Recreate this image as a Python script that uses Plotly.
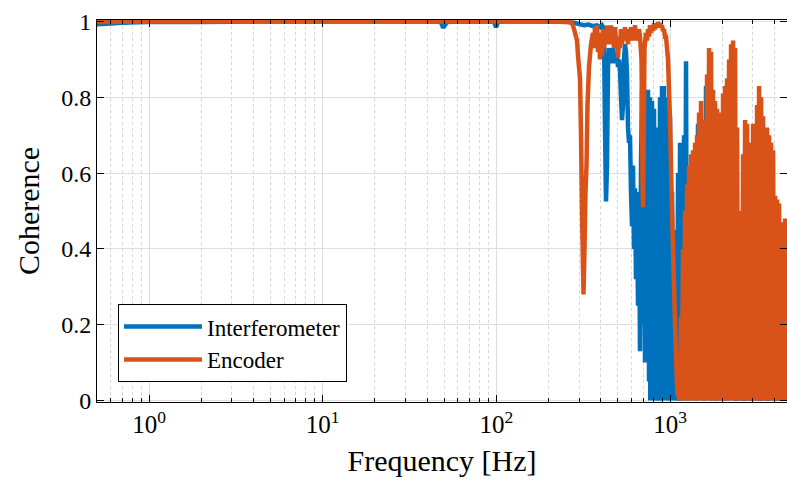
import plotly.graph_objects as go

# ---------------- data ----------------
# Interferometer coherence
FREQ_INT = [
    0.5, 0.6, 0.7, 0.85, 1, 2, 5, 10, 20, 45, 48, 49.3, 50.5, 52, 60, 90, 97, 99.5, 100.6, 102, 110,
    200, 250, 280, 300, 320, 340, 360, 380, 395, 405.5, 410.9,
    416.4, 422.0, 427.6, 433.3, 439.1, 445.0, 450.9, 456.9, 463.0, 469.2,
    475.4, 481.8, 488.2, 494.7, 501.3, 508.0, 514.8, 521.6, 528.6, 535.6,
    542.8, 550.0, 557.4, 564.8, 572.4, 580.0, 587.7, 595.6, 603.5, 611.6,
    619.7, 628.0, 636.4, 644.9, 653.5, 662.2, 671.0, 680.0, 689.0, 698.2,
    707.6, 717.0, 726.6, 736.3, 746.1, 756.1, 766.2, 776.4, 786.8, 797.3,
    807.9, 818.7, 829.6, 840.7, 851.9, 863.3, 874.8, 886.5, 898.3, 910.3,
    922.4, 934.7, 947.2, 959.9, 972.7, 985.6, 998.8, 1012, 1026, 1040,
    1054, 1068, 1082, 1096, 1111, 1126, 1141, 1156, 1171, 1187,
    1203, 1219, 1235, 1252, 1268, 1285, 1302,
    1337, 1373, 1410, 1448, 1487, 1527, 1568, 1610, 1654, 1698,
    1744, 1791, 1839, 1888, 1939, 1991, 2045, 2100, 2156, 2214,
    2244, 2274, 2335, 2398, 2462, 2528, 2596, 2666, 2738, 2811,
    2887, 2964, 3044, 3126, 3210, 3296, 3385, 3476, 3569, 3665,
    3764, 3865, 3969, 4076, 4185, 4298, 4413, 4532, 4654, 4779,
    4908, 5000,
]
COH_INT = [
    0.993, 0.995, 0.997, 0.998, 0.999, 0.999, 1.0, 1.0, 1.0, 1.0, 0.998, 0.984, 0.99, 0.999, 1.0, 1.0, 0.999, 0.985, 0.99, 0.999, 1.0,
    1.0, 1.0, 0.997, 0.993, 0.99, 0.992, 0.988, 0.99, 0.985, 0.99, 0.985,
    0.96, 0.72, 0.525, 0.62, 0.88, 0.93, 0.90, 0.92, 0.89, 0.93,
    0.90, 0.92, 0.89, 0.91, 0.88, 0.90, 0.87, 0.80, 0.74, 0.78,
    0.90, 0.94, 0.92, 0.86, 0.72, 0.68, 0.70, 0.55, 0.46, 0.62,
    0.40, 0.56, 0.32, 0.52, 0.25, 0.55, 0.13, 0.62, 0.82, 0.20,
    0.70, 0.10, 0.76, 0.25, 0.82, 0.05, 0.80, 0.02, 0.79, 0.01,
    0.77, 0.03, 0.60, 0.00, 0.72, 0.02, 0.80, 0.00, 0.83, 0.05,
    0.83, 0.01, 0.78, 0.02, 0.80, 0.00, 0.75, 0.03, 0.55, 0.01,
    0.35, 0.10, 0.45, 0.00, 0.60, 0.02, 0.68, 0.00, 0.65, 0.40,
    0.70, 0.03, 0.895, 0.02, 0.60, 0.01, 0.40,
    0.02, 0.30, 0.01, 0.73, 0.02, 0.25, 0.00, 0.83, 0.03, 0.10,
    0.01, 0.08, 0.00, 0.12, 0.02, 0.05, 0.00, 0.10, 0.02, 0.25,
    0.40, 0.05, 0.02, 0.00, 0.03, 0.01, 0.02, 0.00, 0.03, 0.01,
    0.02, 0.00, 0.03, 0.01, 0.02, 0.00, 0.03, 0.01, 0.02, 0.00,
    0.02, 0.01, 0.03, 0.00, 0.02, 0.01, 0.02, 0.00, 0.02, 0.01,
    0.02, 0.01,
]

# Encoder coherence
FREQ_ENC = [
    0.5, 1, 10, 100, 200, 250, 270,
    276.0, 283.5, 291.1, 295.0, 302.9, 307.0, 311.1, 315.2, 317.3, 321.5, 325.8, 330.2, 334.6, 341.3,
    350.5, 359.9, 364.7, 369.6, 374.5, 379.5, 384.6, 389.7, 394.9, 400.2,
    405.5, 410.9, 416.4, 422.0, 427.6, 433.3, 439.1, 445.0, 450.9, 456.9,
    463.0, 469.2, 475.4, 481.8, 488.2, 494.7, 501.3, 508.0, 514.8, 521.6,
    528.6, 535.6, 542.8, 550.0, 557.4, 564.8, 572.4, 580.0, 587.7, 595.6,
    603.5, 611.6, 619.7, 628.0, 636.4, 644.9, 653.5, 662.2, 671.0, 680.0,
    684.5, 693.6, 698.2, 702.9, 712.3, 726.6, 736.3, 746.1, 756.1, 766.2,
    776.4, 786.8, 797.3, 807.9, 818.7, 829.6, 840.7, 851.9, 863.3, 874.8,
    886.5, 898.3, 910.3, 922.4, 934.7, 947.2, 959.9, 972.7, 985.6, 998.8,
    1012, 1026, 1040, 1054, 1068, 1082, 1096,
    1111, 1126, 1141, 1156, 1171, 1187, 1203, 1219, 1235, 1252,
    1268, 1285, 1302, 1320, 1337, 1355, 1373, 1392, 1410, 1429,
    1448, 1468, 1487, 1507, 1527, 1548, 1568, 1589, 1610, 1632,
    1654, 1676, 1698, 1721, 1744, 1767, 1791, 1815, 1839, 1863,
    1888, 1913, 1939, 1965, 1991, 2018, 2045, 2072, 2100, 2128,
    2156, 2185, 2214, 2244, 2274, 2304, 2335, 2366, 2398, 2430,
    2462, 2495, 2528, 2562, 2596, 2631, 2666, 2702, 2738, 2774,
    2811, 2849, 2887, 2925, 2964, 3004, 3044, 3085, 3126, 3168,
    3210, 3253, 3296, 3340, 3385, 3430, 3476, 3522, 3569, 3617,
    3665, 3714, 3764, 3814, 3865, 3917, 3969, 4022, 4076, 4130,
    4185, 4241, 4298, 4355, 4413, 4472, 4532, 4593, 4654, 4716,
    4779, 4843,
]
COH_ENC = [
    0.999, 1.0, 1.0, 1.0, 1.0, 0.999, 0.998,
    0.99, 0.97, 0.95, 0.91, 0.85, 0.70, 0.50, 0.35, 0.28, 0.40, 0.55, 0.62, 0.78, 0.88,
    0.94, 0.97, 0.93, 0.985, 0.95, 0.99, 0.92, 0.97, 0.90, 0.96,
    0.91, 0.98, 0.93, 0.975, 0.95, 0.99, 0.94, 0.98, 0.95, 0.99,
    0.94, 0.97, 0.93, 0.985, 0.94, 0.96, 0.905, 0.95, 0.93, 0.98,
    0.94, 0.97, 0.95, 0.985, 0.95, 0.97, 0.94, 0.98, 0.95, 0.985,
    0.95, 0.97, 0.96, 0.99, 0.95, 0.97, 0.95, 0.98, 0.96, 0.92,
    0.90, 0.60, 0.51, 0.65, 0.93, 0.97, 0.95, 0.98, 0.96, 0.99,
    0.97, 0.99, 0.975, 0.995, 0.98, 0.99, 0.985, 0.998, 0.99, 0.995,
    0.985, 0.99, 0.975, 0.98, 0.96, 0.96, 0.93, 0.90, 0.82, 0.74,
    0.62, 0.50, 0.40, 0.30, 0.20, 0.12, 0.04,
    0.01, 0.10, 0.00, 0.22, 0.02, 0.40, 0.01, 0.50, 0.03, 0.57,
    0.00, 0.62, 0.02, 0.65, 0.01, 0.66, 0.03, 0.68, 0.00, 0.70,
    0.02, 0.76, 0.01, 0.79, 0.03, 0.70, 0.00, 0.74, 0.02, 0.86,
    0.01, 0.93, 0.03, 0.92, 0.00, 0.82, 0.02, 0.79, 0.01, 0.77,
    0.03, 0.75, 0.00, 0.76, 0.02, 0.81, 0.01, 0.83, 0.03, 0.85,
    0.00, 0.90, 0.42, 0.94, 0.45, 0.95, 0.02, 0.93, 0.01, 0.72,
    0.03, 0.45, 0.00, 0.50, 0.02, 0.65, 0.01, 0.74, 0.03, 0.73,
    0.00, 0.62, 0.02, 0.68, 0.01, 0.73, 0.03, 0.72, 0.00, 0.78,
    0.02, 0.83, 0.01, 0.80, 0.03, 0.75, 0.00, 0.68, 0.02, 0.72,
    0.01, 0.70, 0.03, 0.68, 0.00, 0.66, 0.02, 0.54, 0.01, 0.53,
    0.03, 0.52, 0.00, 0.47, 0.02, 0.47, 0.01, 0.48, 0.03, 0.46,
    0.02, 0.45,
]

# frequencies above which each measured curve is a dense band reaching down to ~0
DENSE_FROM_INT = 746.1
DENSE_FROM_ENC = 1096

SERIES_NAMES = ["Interferometer", "Encoder"]
X_TICKS = [1, 10, 100, 1000]
X_TICK_LABELS = ["10<sup>0</sup>", "10<sup>1</sup>", "10<sup>2</sup>", "10<sup>3</sup>"]
Y_TICKS = [0, 0.2, 0.4, 0.6, 0.8, 1]
Y_TICK_LABELS = ["0", "0.2", "0.4", "0.6", "0.8", "1"]

# ---------------- figure ----------------
BLUE = "#0072BD"
ORANGE = "#D95319"
FONT = "Liberation Serif"
LW = 4.5

i_int = FREQ_INT.index(DENSE_FROM_INT)
i_enc = FREQ_ENC.index(DENSE_FROM_ENC)

fig = go.Figure()
# dense, overlapping part of the interferometer curve: area under the measured points
fig.add_trace(go.Scatter(x=FREQ_INT[i_int:], y=COH_INT[i_int:], mode="lines", showlegend=False,
                         hoverinfo="skip", fill="tozeroy", fillcolor=BLUE,
                         line=dict(color=BLUE, width=0, simplify=False)))
fig.add_trace(go.Scatter(x=FREQ_INT, y=COH_INT, mode="lines", name=SERIES_NAMES[0],
                         line=dict(color=BLUE, width=LW, simplify=False)))
# dense, overlapping part of the encoder curve
fig.add_trace(go.Scatter(x=FREQ_ENC[i_enc:], y=COH_ENC[i_enc:], mode="lines", showlegend=False,
                         hoverinfo="skip", fill="tozeroy", fillcolor=ORANGE,
                         line=dict(color=ORANGE, width=0, simplify=False)))
fig.add_trace(go.Scatter(x=FREQ_ENC, y=COH_ENC, mode="lines", name=SERIES_NAMES[1],
                         line=dict(color=ORANGE, width=LW, simplify=False)))

fig.update_layout(
    width=787, height=482,
    margin=dict(l=97, r=0, t=20, b=80),
    paper_bgcolor="white", plot_bgcolor="white",
    font=dict(family=FONT, size=22, color="black"),
    showlegend=True,
    legend=dict(
        x=0.0304, y=0.052, xanchor="left", yanchor="bottom",
        bgcolor="white", bordercolor="black", borderwidth=1,
        font=dict(family=FONT, size=23, color="black"),
        itemwidth=78, tracegroupgap=0,
    ),
)

fig.update_xaxes(
    type="log", range=[-0.2994, 3.673],
    tickvals=X_TICKS, ticktext=X_TICK_LABELS,
    ticks="inside", ticklen=7, tickcolor="black",
    showline=True, linecolor="black", linewidth=1, mirror="allticks",
    showgrid=True, gridcolor="#dedede", gridwidth=1,
    minor=dict(dtick="D1", ticks="inside", ticklen=4, tickcolor="black",
               showgrid=True, gridcolor="#d4d4d4", griddash="dot", gridwidth=1),
    tickfont=dict(family=FONT, size=25),
    title=dict(text="Frequency [Hz]", font=dict(family=FONT, size=30), standoff=12),
    zeroline=False,
)
fig.update_yaxes(
    range=[-0.004, 1.004],
    tickvals=Y_TICKS, ticktext=Y_TICK_LABELS,
    ticks="inside", ticklen=7, tickcolor="black",
    showline=True, linecolor="black", linewidth=1, mirror="allticks",
    showgrid=True, gridcolor="#dedede", gridwidth=1,
    tickfont=dict(family=FONT, size=24),
    title=dict(text="Coherence", font=dict(family=FONT, size=30), standoff=12),
    zeroline=False,
)

fig.write_html("out.html")
